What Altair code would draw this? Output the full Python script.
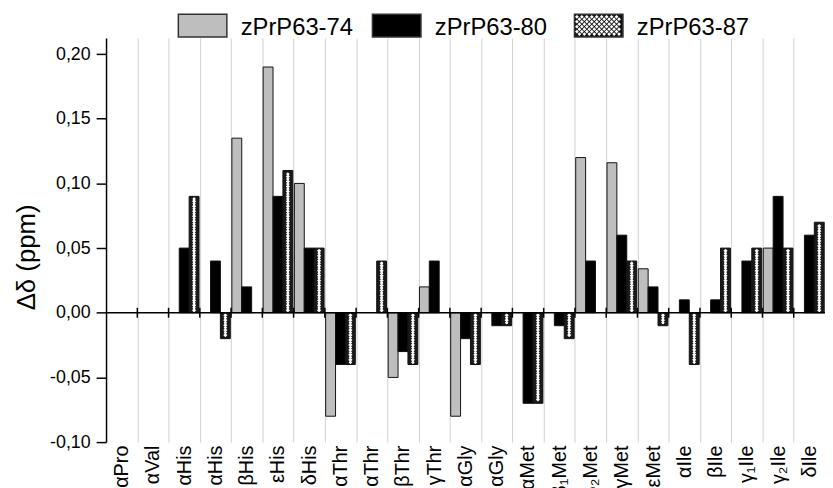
import altair as alt
import pandas as pd
import numpy as np

categories = ["αPro", "αVal", "αHis", "αHis", "βHis", "εHis", "δHis", "αThr", "αThr",
              "βThr", "γThr", "αGly", "αGly", "αMet", "β₁Met", "β₂Met", "γMet", "εMet",
              "αIle", "βIle", "γ₁Ile", "γ₂Ile", "δIle"]
series = ["zPrP63-74", "zPrP63-80", "zPrP63-87"]
v74 = [0, 0, 0, 0, 0.135, 0.19, 0.10, -0.08, 0, -0.05, 0.02, -0.08, 0, 0, 0, 0.12, 0.116,
       0.034, 0, 0, 0, 0.05, 0]
v80 = [0, 0, 0.05, 0.04, 0.02, 0.09, 0.05, -0.04, 0, -0.03, 0.04, -0.02, -0.01, -0.07, -0.01,
       0.04, 0.06, 0.02, 0.01, 0.01, 0.04, 0.09, 0.06]
v87 = [0, 0, 0.09, -0.02, 0, 0.11, 0.05, -0.04, 0.04, -0.04, 0, -0.04, -0.01, -0.07, -0.02,
       0, 0.04, -0.01, -0.04, 0.05, 0.05, 0.05, 0.07]
y_ticks = [-0.10, -0.075, -0.05, -0.025, 0.0, 0.025, 0.05, 0.075, 0.10, 0.125, 0.15, 0.175, 0.20]

FONT = "Liberation Sans"
W, H = 726, 408
YMIN, YMAX = -0.10, 0.2124
PX = H / (YMAX - YMIN)  # pixels per unit

# unique keys for duplicated labels
keys, seen = [], {}
for c in categories:
    n = seen.get(c, 0)
    keys.append(c + "\u200b" * n)
    seen[c] = n + 1

rows = []
for s, vals in zip(series, [v74, v80, v87]):
    for k, v in zip(keys, vals):
        if v != 0:
            rows.append({"cat": k, "series": s, "value": v})
df = pd.DataFrame(rows)

# hatch dots for zPrP63-87 bars
sp = 5.0 / PX
dots_c, dots_e = [], []
for k, v in zip(keys, v87):
    if v == 0:
        continue
    sgn = 1 if v > 0 else -1
    a = abs(v)
    t = sp * 0.5
    while t + sp * 0.3 < a:
        dots_c.append({"cat": k, "series": series[2], "yd": sgn * t})
        t += sp
    t = sp
    while t + sp * 0.3 < a:
        dots_e.append({"cat": k, "series": series[2], "yd": sgn * t})
        t += sp
dc = pd.DataFrame(dots_c)
de = pd.DataFrame(dots_e)

xscale = alt.Scale(domain=keys, paddingInner=0, paddingOuter=0)
oscale = alt.Scale(domain=series, paddingInner=0, paddingOuter=0.08)
yscale = alt.Scale(domain=[YMIN, YMAX], nice=False, zero=False)

X = alt.X("cat:N", sort=keys, scale=xscale, axis=alt.Axis(
    title=None, labelAngle=270, domain=False, ticks=False, grid=True, tickBand="extent",
    gridColor="#d0d0d0", gridWidth=1, labelFont=FONT, labelFontSize=20, labelColor="black",
    labelPadding=3, labelOverlap=False, labelLimit=0))
XO = alt.XOffset("series:N", sort=series, scale=oscale)

label_expr = ("abs(round(datum.value*40)) % 2 == 0 ? "
              "replace((datum.value < 0 ? '-' : '') + format(abs(datum.value), '.2f'), '.', ',') : ''")
Y = alt.Y("value:Q", scale=yscale, axis=alt.Axis(
    values=y_ticks, labelExpr=label_expr, title="Δδ (ppm)", titleFont=FONT, titleFontSize=26,
    titleFontWeight="normal", titleColor="black", titlePadding=10, titleY=221,
    labelFont=FONT, labelFontSize=18, labelColor="black", labelPadding=6,
    domainColor="black", domainWidth=1.5, tickColor="black", tickWidth=1.5,
    tickSize={"condition": {"test": "abs(round(datum.value*40)) % 2 == 0", "value": 10}, "value": 5},
    grid=False))

bars = alt.Chart(df).mark_bar(stroke="#111", strokeWidth=1).encode(
    x=X, xOffset=XO, y=Y,
    fill=alt.Fill("series:N", scale=alt.Scale(domain=series, range=["#bebebe", "#000000", "#1a1a1a"]),
                  legend=None),
)

hatch_c = alt.Chart(dc).mark_point(shape="diamond", filled=True, color="white", size=18,
                                    strokeWidth=0, opacity=1).encode(
    x=alt.X("cat:N", sort=keys, scale=xscale), xOffset=XO,
    y=alt.Y("yd:Q", scale=yscale))
hatch_l = alt.Chart(de).mark_point(shape="diamond", filled=True, color="white", size=11,
                                    strokeWidth=0, opacity=1, xOffset=-3.5).encode(
    x=alt.X("cat:N", sort=keys, scale=xscale), xOffset=XO,
    y=alt.Y("yd:Q", scale=yscale))
hatch_r = alt.Chart(de).mark_point(shape="diamond", filled=True, color="white", size=11,
                                    strokeWidth=0, opacity=1, xOffset=3.5).encode(
    x=alt.X("cat:N", sort=keys, scale=xscale), xOffset=XO,
    y=alt.Y("yd:Q", scale=yscale))

zero = alt.Chart(pd.DataFrame({"z": [0.0]})).mark_rule(color="black", strokeWidth=1.5).encode(
    y=alt.Y("z:Q", scale=yscale))

tk = 5.0 / PX
ztick = alt.Chart(pd.DataFrame({"cat": keys[1:]})).mark_rule(color="black", strokeWidth=1.5).encode(
    x=alt.X("cat:N", sort=keys, scale=xscale, bandPosition=0),
    y=alt.datum(tk), y2=alt.datum(-tk))

# legend (drawn manually so that the hatched swatch can be shown)
leg_x = [73, 269, 473]
leg_fill = ["#bebebe", "#000000", "#111111"]
legend_layers = []
for name, x0, f in zip(series, leg_x, leg_fill):
    one = pd.DataFrame({"series": [name]})
    legend_layers.append(alt.Chart(one).mark_rect(fill=f, stroke="#333", strokeWidth=1.5).encode(
        x=alt.value(x0), x2=alt.value(x0 + 49), y=alt.value(-24), y2=alt.value(-1)))
    legend_layers.append(alt.Chart(one).mark_text(
        font=FONT, fontSize=24, align="left", baseline="alphabetic", color="black").encode(
        x=alt.value(x0 + 63), y=alt.value(-3), text="series:N"))

# hatch path for legend swatch (white diamonds grid inside normalized box)
parts = []
bw, bh = 49.0, 23.0
step = 5.0
r = 1.9
yy = -bh / 2 + 2.5
row = 0
while yy < bh / 2 - 1.5:
    xx = -bw / 2 + (2.5 if row % 2 == 0 else 5.0)
    while xx < bw / 2 - 1.5:
        cx, cy = xx / (bw / 2), yy / (bw / 2)
        rr = r / (bw / 2)
        parts.append(f"M{cx:.4f},{cy - rr:.4f}L{cx + rr:.4f},{cy:.4f}L{cx:.4f},{cy + rr:.4f}L{cx - rr:.4f},{cy:.4f}Z")
        xx += step
    yy += step / 2
    row += 1
hatch_path = "".join(parts)
legend_layers.append(alt.Chart(pd.DataFrame({"series": [series[2]]})).mark_point(
    shape=hatch_path, size=bw * bw, filled=True, color="white", strokeWidth=0, opacity=1).encode(
    x=alt.value(leg_x[2] + 24.5), y=alt.value(-12.5)))

chart = alt.layer(bars, hatch_c, hatch_l, hatch_r, zero, ztick, *legend_layers).properties(
    width=W, height=H,
    autosize=alt.AutoSizeParams(type="none"),
    padding={"left": 99, "top": 28, "right": 0, "bottom": 44},
    background="white",
).configure_view(stroke=None)

chart.save("out.html", embed_options={"renderer": "svg", "actions": False})
